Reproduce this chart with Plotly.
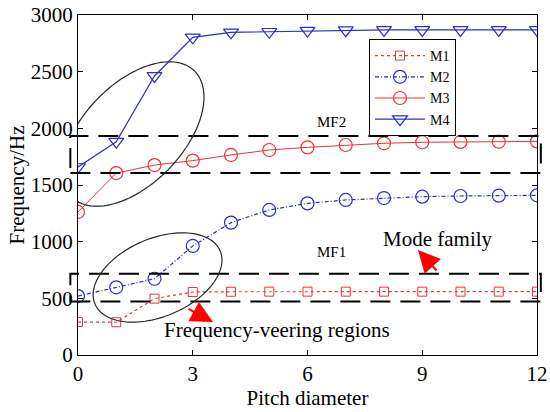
import numpy as np
import plotly.graph_objects as go

# ---------------- data ----------------
pitch = [0, 1, 2, 3, 4, 5, 6, 7, 8, 9, 10, 11, 12]
M1 = [291, 289, 497, 556, 558, 559, 559, 559, 559, 559, 559, 559, 559]
M2 = [520, 597, 673, 962, 1168, 1280, 1338, 1368, 1385, 1397, 1403, 1406, 1409]
M3 = [1262, 1605, 1676, 1715, 1765, 1809, 1832, 1853, 1868, 1877, 1880, 1882, 1885]
M4 = [1659, 1882, 2462, 2803, 2847, 2852, 2862, 2866, 2868, 2868, 2868, 2868, 2868]
x_ticks = [0, 3, 6, 9, 12]
y_ticks = [0, 500, 1000, 1500, 2000, 2500, 3000]
mf2_band = [1605, 1932]
mf1_band = [472, 716]

RED = "rgb(238,50,55)"
BLUE = "rgb(45,45,200)"
FONT = "Liberation Serif"

W, H = 550, 412
ML, MR, MT, MB = 78, 13, 15, 57
PW, PH = W - ML - MR, H - MT - MB
XR, YR = [0, 12], [0, 3000]
sx = PW / (XR[1] - XR[0])
sy = PH / (YR[1] - YR[0])

fig = go.Figure()
fig.add_trace(go.Scatter(x=pitch, y=M1, name="M1", mode="lines+markers",
                         line=dict(color=RED, width=1.2, dash="dot"),
                         marker=dict(symbol="square-open", size=9, color=RED, line=dict(width=1))))
fig.add_trace(go.Scatter(x=pitch, y=M2, name="M2", mode="lines+markers",
                         line=dict(color=BLUE, width=1.2, dash="4px,2px,1px,2px"),
                         marker=dict(symbol="circle-open", size=13, color=BLUE, line=dict(width=1.2))))
fig.add_trace(go.Scatter(x=pitch, y=M3, name="M3", mode="lines+markers",
                         line=dict(color=RED, width=1),
                         marker=dict(symbol="circle-open", size=13, color=RED, line=dict(width=1.2))))
fig.add_trace(go.Scatter(x=pitch, y=M4, name="M4", mode="lines+markers",
                         line=dict(color=BLUE, width=1.2),
                         marker=dict(symbol="triangle-down-open", size=13, color=BLUE, line=dict(width=1.2))))

# dashed mode-family bands
for lo, hi in (mf2_band, mf1_band):
    fig.add_shape(type="rect", xref="paper", yref="y",
                  x0=-0.2 / 12, x1=12.1 / 12, y0=lo, y1=hi,
                  line=dict(color="black", width=2, dash="20px,10px"))

# tilted ellipses (center in data units, axes in pixels, angle deg)
def ellipse_path(cx, cy, a, b, ang):
    t = np.linspace(0, 2 * np.pi, 120)
    th = np.deg2rad(ang)
    px = a * np.cos(th) * np.cos(t) - b * np.sin(th) * np.sin(t)
    py = a * np.sin(th) * np.cos(t) + b * np.cos(th) * np.sin(t)
    xs = cx + px / sx
    ys = cy + py / sy
    return "M " + " L ".join(f"{x:.4f},{y:.2f}" for x, y in zip(xs, ys)) + " Z"

for cx, cy, a, b, ang in ((1.44, 1950, 88, 50, 46), (2.08, 684, 68, 39, 23)):
    fig.add_shape(type="path", xref="x", yref="y", path=ellipse_path(cx, cy, a, b, ang),
                  line=dict(color="rgb(40,40,40)", width=1.2))

# text labels
fig.add_annotation(x=6.64, y=2056, text="MF2", showarrow=False, font=dict(family=FONT, size=15, color="black"))
fig.add_annotation(x=6.64, y=909, text="MF1", showarrow=False, font=dict(family=FONT, size=15, color="black"))
fig.add_annotation(x=9.41, y=1024, text="Mode family", showarrow=False, font=dict(family=FONT, size=21, color="black"))
fig.add_annotation(x=5.2, y=222, text="Frequency-veering regions", showarrow=False,
                   font=dict(family=FONT, size=21, color="black"))

# red arrows
fig.add_annotation(x=8.89, y=926, ax=9.41, ay=732, axref="x", ayref="y", xref="x", yref="y",
                   text="", showarrow=True, arrowhead=2, arrowsize=2.2, arrowwidth=2, arrowcolor="red")
fig.add_annotation(x=3.53, y=291, ax=2.85, ay=415, axref="x", ayref="y", xref="x", yref="y",
                   text="", showarrow=True, arrowhead=2, arrowsize=2.2, arrowwidth=2, arrowcolor="red")

axis_common = dict(showline=True, linecolor="black", linewidth=1, mirror="ticks", automargin=False,
                   ticks="inside", ticklen=5, tickcolor="black", showgrid=False, zeroline=False,
                   tickfont=dict(family=FONT, size=21, color="black"))
fig.update_xaxes(range=XR, tickvals=x_ticks,
                 title=dict(text="Pitch diameter", font=dict(family=FONT, size=21, color="black"), standoff=4),
                 **axis_common)
fig.update_yaxes(range=YR, tickvals=y_ticks,
                 title=dict(text="Frequency/Hz", font=dict(family=FONT, size=21, color="black"), standoff=0),
                 **axis_common)

fig.update_layout(
    width=W, height=H, margin=dict(l=ML, r=MR, t=MT, b=MB),
    paper_bgcolor="white", plot_bgcolor="white",
    legend=dict(x=(369 - ML) / PW, y=(H - MB - 39) / PH, xanchor="left", yanchor="top",
                bgcolor="white", bordercolor="black", borderwidth=1,
                font=dict(family=FONT, size=14, color="black"), tracegroupgap=0, itemwidth=50),
    showlegend=True,
)

fig.write_html("out.html", config={"displayModeBar": False},
               post_script="document.body.style.margin='0';")
